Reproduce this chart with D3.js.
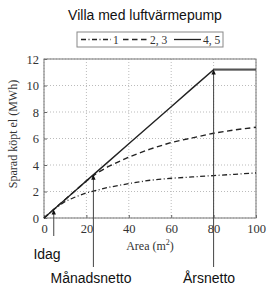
<!DOCTYPE html>
<html>
<head>
<meta charset="utf-8">
<script src="https://cdn.jsdelivr.net/npm/d3@7"></script>
<style>
  body { margin: 0; background: #fff; }
  svg { display: block; }
</style>
</head>
<body>
<div id="chart"></div>
<script>
// data
var areas    = [0, 5, 10, 15, 20, 25, 30, 40, 50, 60, 70, 80, 90, 100];
var series1  = [0, 0.7, 1.25, 1.6, 1.9, 2.1, 2.3, 2.6, 2.85, 3.0, 3.1, 3.2, 3.3, 3.4];
var series23 = [0, 0.7, 1.4, 2.1, 2.8, 3.4, 3.85, 4.6, 5.2, 5.7, 6.05, 6.4, 6.65, 6.85];
var series45 = [0, 0.7, 1.4, 2.1, 2.8, 3.5, 4.2, 5.6, 7.0, 8.4, 9.8, 11.2, 11.2, 11.2];
var seriesNames = ["1", "2, 3", "4, 5"];
var xTicks = [0, 20, 40, 60, 80, 100];
var yTicks = [0, 2, 4, 6, 8, 10, 12];
var arrowAreas  = [4.6, 23.3, 80];
var arrowLabels = ["Idag", "Månadsnetto", "Årsnetto"];

var SERIF = '"Liberation Serif", "DejaVu Serif", serif';
var SANS = '"Liberation Sans", Arial, sans-serif';

var width = 271, height = 293;
var margin = {top: 59, right: 15, bottom: 75, left: 44};
var w = width - margin.left - margin.right,
    h = height - margin.top - margin.bottom;

var svg = d3.select("#chart").append("svg")
    .attr("width", width)
    .attr("height", height);

var x = d3.scaleLinear().domain([0, 100]).range([0, w]);
var y = d3.scaleLinear().domain([0, 12]).range([h, 0]);

var g = svg.append("g")
    .attr("transform", "translate(" + margin.left + "," + margin.top + ")");

// grid
g.selectAll("line.gx").data(xTicks).enter().append("line")
    .attr("x1", d => x(d)).attr("x2", d => x(d))
    .attr("y1", 0).attr("y2", h)
    .attr("stroke", "#bbb").attr("stroke-dasharray", "1,2");
g.selectAll("line.gy").data(yTicks).enter().append("line")
    .attr("y1", d => y(d)).attr("y2", d => y(d))
    .attr("x1", 0).attr("x2", w)
    .attr("stroke", "#bbb").attr("stroke-dasharray", "1,2");

// axes (inward ticks, serif labels)
var xAxis = d3.axisBottom(x).tickValues(xTicks).tickSizeInner(-3).tickSizeOuter(0).tickPadding(6);
var yAxis = d3.axisLeft(y).tickValues(yTicks).tickSizeInner(-3).tickSizeOuter(0).tickPadding(5);

var gx = g.append("g").attr("transform", "translate(0," + h + ")").call(xAxis);
var gy = g.append("g").call(yAxis);
[gx, gy].forEach(function(a) {
  a.attr("font-family", SERIF).attr("font-size", 12.5);
  a.select(".domain").remove();
  a.selectAll("line").attr("stroke", "#666");
  a.selectAll("text").attr("fill", "#333");
});

// frame
g.append("rect").attr("width", w).attr("height", h)
    .attr("fill", "none").attr("stroke", "#777").attr("stroke-width", 1);

// lines
var line = d3.line().x((d, i) => x(areas[i])).y(d => y(d));
var styles = [
  {data: series1,  dash: "5,2.5,1,2.5", sw: 1.3},
  {data: series23, dash: "5.5,3.5",     sw: 1.4},
  {data: series45, dash: null,          sw: 1.4}
];
styles.forEach(function(s) {
  g.append("path").datum(s.data)
      .attr("d", line)
      .attr("fill", "none")
      .attr("stroke", "#222")
      .attr("stroke-width", s.sw)
      .attr("stroke-dasharray", s.dash);
});
// flat part of solid line drawn gray as in the picture
g.append("path").datum([80, 100])
    .attr("d", d3.line().x(d => x(d)).y(y(11.2)))
    .attr("stroke", "#555").attr("stroke-width", 2).attr("fill", "none");

// arrows
var solidAt = d3.scaleLinear().domain(areas).range(series45);
var arrowBottoms = [236, 267, 267];
arrowAreas.forEach(function(a, i) {
  var ax = x(a), ay = y(solidAt(a));
  var by = arrowBottoms[i] - margin.top;
  g.append("line")
      .attr("x1", ax).attr("x2", ax)
      .attr("y1", ay + 4).attr("y2", by)
      .attr("stroke", "#444").attr("stroke-width", 1);
  g.append("path")
      .attr("d", "M" + ax + "," + ay + "L" + (ax - 2.2) + "," + (ay + 5) + "L" + (ax + 2.2) + "," + (ay + 5) + "Z")
      .attr("fill", "#111");
});

// arrow labels
var labelPos = [[47, 259], [91, 283], [209, 283]];
arrowLabels.forEach(function(t, i) {
  svg.append("text")
      .attr("font-family", SANS)
      .attr("x", labelPos[i][0]).attr("y", labelPos[i][1])
      .attr("text-anchor", "middle").attr("font-size", 14)
      .attr("fill", "#111").text(t);
});

// axis titles
var xt = svg.append("text").attr("font-family", SERIF)
    .attr("x", margin.left + w / 2).attr("y", 250)
    .attr("text-anchor", "middle").attr("font-size", 12).attr("fill", "#333");
xt.append("tspan").text("Area (m");
xt.append("tspan").attr("font-size", 8).attr("dy", -5).text("2");
xt.append("tspan").attr("dy", 5).text(")");

svg.append("text").attr("font-family", SERIF)
    .attr("transform", "translate(17," + 134 + ") rotate(-90)")
    .attr("text-anchor", "middle").attr("font-size", 12).attr("fill", "#333")
    .text("Sparad köpt el (MWh)");

// title
svg.append("text").attr("font-family", SANS)
    .attr("x", 145).attr("y", 20)
    .attr("text-anchor", "middle").attr("font-size", 14).attr("fill", "#111")
    .text("Villa med luftvärmepump");

// legend
var lg = svg.append("g").attr("transform", "translate(77,32)");
lg.append("rect").attr("width", 146).attr("height", 15)
    .attr("fill", "#fff").attr("stroke", "#888");
var legX = [4, 46, 97];
var legLen = [30, 25, 27];
styles.forEach(function(s, i) {
  lg.append("line")
      .attr("x1", legX[i]).attr("x2", legX[i] + legLen[i])
      .attr("y1", 7.5).attr("y2", 7.5)
      .attr("stroke", "#222").attr("stroke-width", 1.3)
      .attr("stroke-dasharray", s.dash);
  lg.append("text").attr("font-family", SERIF)
      .attr("x", legX[i] + legLen[i] + 2).attr("y", 11.5)
      .attr("font-size", 11.5).attr("fill", "#333")
      .text(seriesNames[i]);
});
</script>
</body>
</html>
